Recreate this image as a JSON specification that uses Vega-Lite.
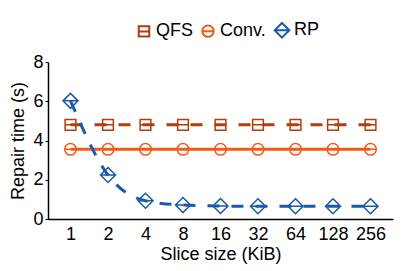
{
  "$schema": "https://vega.github.io/schema/vega-lite/v6.json",
  "width": 345,
  "height": 157,
  "autosize": {"type": "none"},
  "padding": {"left": 48, "top": 62, "right": 9, "bottom": 52},
  "config": {
    "font": "Liberation Sans",
    "view": {"stroke": null},
    "axis": {
      "labelFont": "Liberation Sans", "titleFont": "Liberation Sans",
      "labelFontSize": 18, "titleFontSize": 18, "labelColor": "#000", "titleColor": "#000",
      "titleFontWeight": "normal", "domainColor": "#000", "domainWidth": 1.5,
      "tickColor": "#000", "grid": false
    },
    "legend": {
      "labelFontSize": 18, "labelColor": "#000", "labelFont": "Liberation Sans",
      "symbolSize": 110, "symbolStrokeWidth": 2, "columnPadding": 4, "labelOffset": 3
    }
  },
  "data": {"values": [
    {"size": "1", "series": "QFS", "time": 4.8},
    {"size": "2", "series": "QFS", "time": 4.8},
    {"size": "4", "series": "QFS", "time": 4.8},
    {"size": "8", "series": "QFS", "time": 4.8},
    {"size": "16", "series": "QFS", "time": 4.8},
    {"size": "32", "series": "QFS", "time": 4.8},
    {"size": "64", "series": "QFS", "time": 4.8},
    {"size": "128", "series": "QFS", "time": 4.8},
    {"size": "256", "series": "QFS", "time": 4.8},
    {"size": "1", "series": "Conv.", "time": 3.55},
    {"size": "2", "series": "Conv.", "time": 3.55},
    {"size": "4", "series": "Conv.", "time": 3.55},
    {"size": "8", "series": "Conv.", "time": 3.55},
    {"size": "16", "series": "Conv.", "time": 3.55},
    {"size": "32", "series": "Conv.", "time": 3.55},
    {"size": "64", "series": "Conv.", "time": 3.55},
    {"size": "128", "series": "Conv.", "time": 3.55},
    {"size": "256", "series": "Conv.", "time": 3.55},
    {"size": "1", "series": "RP", "time": 6.02},
    {"size": "2", "series": "RP", "time": 2.24},
    {"size": "4", "series": "RP", "time": 0.93},
    {"size": "8", "series": "RP", "time": 0.71},
    {"size": "16", "series": "RP", "time": 0.66},
    {"size": "32", "series": "RP", "time": 0.65},
    {"size": "64", "series": "RP", "time": 0.65},
    {"size": "128", "series": "RP", "time": 0.65},
    {"size": "256", "series": "RP", "time": 0.65}
  ]},
  "encoding": {
    "x": {
      "field": "size", "type": "ordinal",
      "sort": ["1", "2", "4", "8", "16", "32", "64", "128", "256"],
      "scale": {"type": "point", "padding": 0.6},
      "axis": {"title": "Slice size (KiB)", "labelAngle": 0, "ticks": false, "labelPadding": 6, "titlePadding": 2}
    },
    "y": {
      "field": "time", "type": "quantitative",
      "scale": {"domain": [0, 8]},
      "axis": {"title": "Repair time (s)", "values": [0, 2, 4, 6, 8], "tickSize": 3, "labelPadding": 2, "titlePadding": 5}
    }
  },
  "layer": [
    {
      "mark": {"type": "line", "interpolate": "monotone", "strokeWidth": 3},
      "encoding": {
        "color": {"field": "series", "type": "nominal", "scale": {"domain": ["QFS", "Conv.", "RP"], "range": ["#b23c0c", "#ef5a1c", "#1c5aa8"]}},
        "strokeDash": {"condition": {"test": "datum.series == 'Conv.'", "value": [1, 0]}, "value": [12, 12]}
      }
    },
    {
      "mark": {"type": "point", "filled": false, "size": 115, "strokeWidth": 1.5, "opacity": 1},
      "encoding": {
        "color": {
          "field": "series", "type": "nominal",
          "scale": {"domain": ["QFS", "Conv.", "RP"], "range": ["#b23c0c", "#ef5a1c", "#1c5aa8"]},
          "legend": {"title": null, "orient": "none", "direction": "horizontal", "legendX": 87, "legendY": -41}
        },
        "shape": {"field": "series", "type": "nominal", "scale": {"domain": ["QFS", "Conv.", "RP"], "range": [
          "M-1,-1H1V1H-1ZM-1,0H1",
          "M-1.08,0A1.08,1.08,0,1,1,1.08,0A1.08,1.08,0,1,1,-1.08,0ZM-1.08,0H1.08",
          "M0,-1.4L1.4,0L0,1.4L-1.4,0ZM-1.4,0H1.4"
        ]}}
      }
    }
  ]
}
